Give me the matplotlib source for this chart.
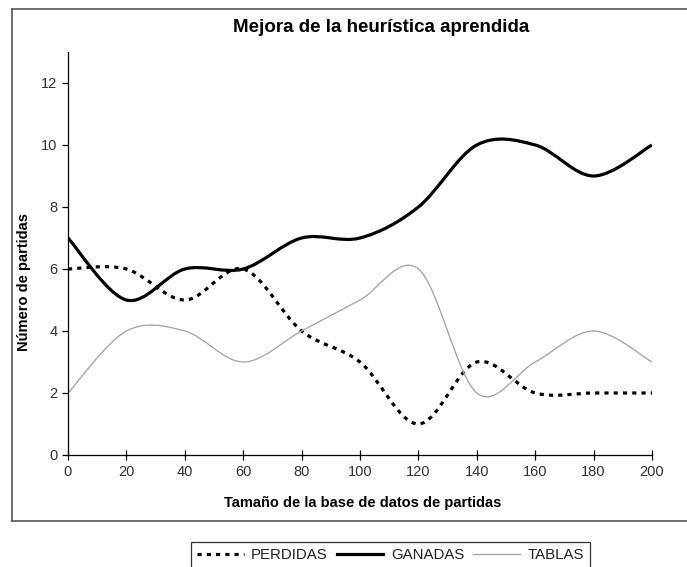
import matplotlib.pyplot as plt
from matplotlib.path import Path
from matplotlib.patches import PathPatch
from matplotlib.lines import Line2D

plt.rcParams['font.family'] = ['Liberation Sans', 'DejaVu Sans']

tamano = [0, 20, 40, 60, 80, 100, 120, 140, 160, 180, 200]
perdidas = [6, 6, 5, 6, 4, 3, 1, 3, 2, 2, 2]
ganadas = [7, 5, 6, 6, 7, 7, 8, 10, 10, 9, 10]
tablas = [2, 4, 4, 3, 4, 5, 6, 2, 3, 4, 3]
series_names = ["PERDIDAS", "GANADAS", "TABLAS"]


def smooth_path(xs, ys):
    # Excel-like smoothed line: Catmull-Rom segments as cubic Bezier curves
    pts = list(zip(xs, ys))
    n = len(pts)
    verts = [pts[0]]
    codes = [Path.MOVETO]
    for i in range(n - 1):
        p0 = pts[max(i - 1, 0)]
        p1 = pts[i]
        p2 = pts[i + 1]
        p3 = pts[min(i + 2, n - 1)]
        c1 = (p1[0] + (p2[0] - p0[0]) / 6, p1[1] + (p2[1] - p0[1]) / 6)
        c2 = (p2[0] - (p3[0] - p1[0]) / 6, p2[1] - (p3[1] - p1[1]) / 6)
        verts += [c1, c2, p2]
        codes += [Path.CURVE4] * 3
    return Path(verts, codes)


fig = plt.figure(figsize=(6.87, 5.67), dpi=100)
ax = fig.add_axes([68 / 687, 1 - 455 / 567, (652 - 68) / 687, (455 - 52) / 567])

styles = [
    dict(color="black", lw=2.3, linestyle=(0, (1.3, 1.6))),
    dict(color="black", lw=2.3, linestyle="-"),
    dict(color="#a8a8a8", lw=1.0, linestyle="-"),
]
for ys, st in zip([perdidas, ganadas, tablas], styles):
    ax.add_patch(PathPatch(smooth_path(tamano, ys), fill=False, capstyle="butt", **st))

ax.set_xlim(0, 200)
ax.set_ylim(0, 13)
ax.set_xticks(range(0, 201, 20))
ax.set_yticks(range(0, 13, 2))
for s in ["top", "right"]:
    ax.spines[s].set_visible(False)
for s in ["left", "bottom"]:
    ax.spines[s].set_linewidth(0.9)
ax.tick_params(axis="both", labelsize=10.5, length=4, width=0.9, colors="black")
ax.tick_params(axis="x", direction="inout", length=7)
for lab in ax.get_xticklabels() + ax.get_yticklabels():
    lab.set_color("#333333")

fig.text(381 / 687, 1 - 28 / 567, "Mejora de la heurística aprendida",
         ha="center", va="center", fontsize=13.5, fontweight="bold")
fig.text(363 / 687, 1 - 503 / 567, "Tamaño de la base de datos de partidas",
         ha="center", va="center", fontsize=10.5, fontweight="bold")
fig.text(24 / 687, 1 - 282 / 567, "Número de partidas", rotation=90,
         ha="center", va="center", fontsize=10.5, fontweight="bold")

# chart area border (right edge falls outside the picture)
border = dict(color="#555555", lw=1.2, transform=fig.transFigure)
fig.add_artist(Line2D([12 / 687, 12 / 687], [1 - 9 / 567, 1 - 521 / 567], **border))
fig.add_artist(Line2D([12 / 687, 1], [1 - 9 / 567, 1 - 9 / 567], **border))
fig.add_artist(Line2D([12 / 687, 1], [1 - 521 / 567, 1 - 521 / 567], **border))

handles = [Line2D([], [], **st) for st in styles]
leg = fig.legend(handles, series_names, loc="upper left",
                 bbox_to_anchor=(191 / 687, 1 - 542 / 567), ncol=3,
                 fontsize=10.8, frameon=True, fancybox=False, handlelength=3.1,
                 handletextpad=0.5, columnspacing=0.6, borderpad=0.4,
                 borderaxespad=0)
leg.get_frame().set_edgecolor("black")
leg.get_frame().set_linewidth(0.9)
for t in leg.get_texts():
    t.set_color("#222222")

fig.savefig("out.png", dpi=100)
